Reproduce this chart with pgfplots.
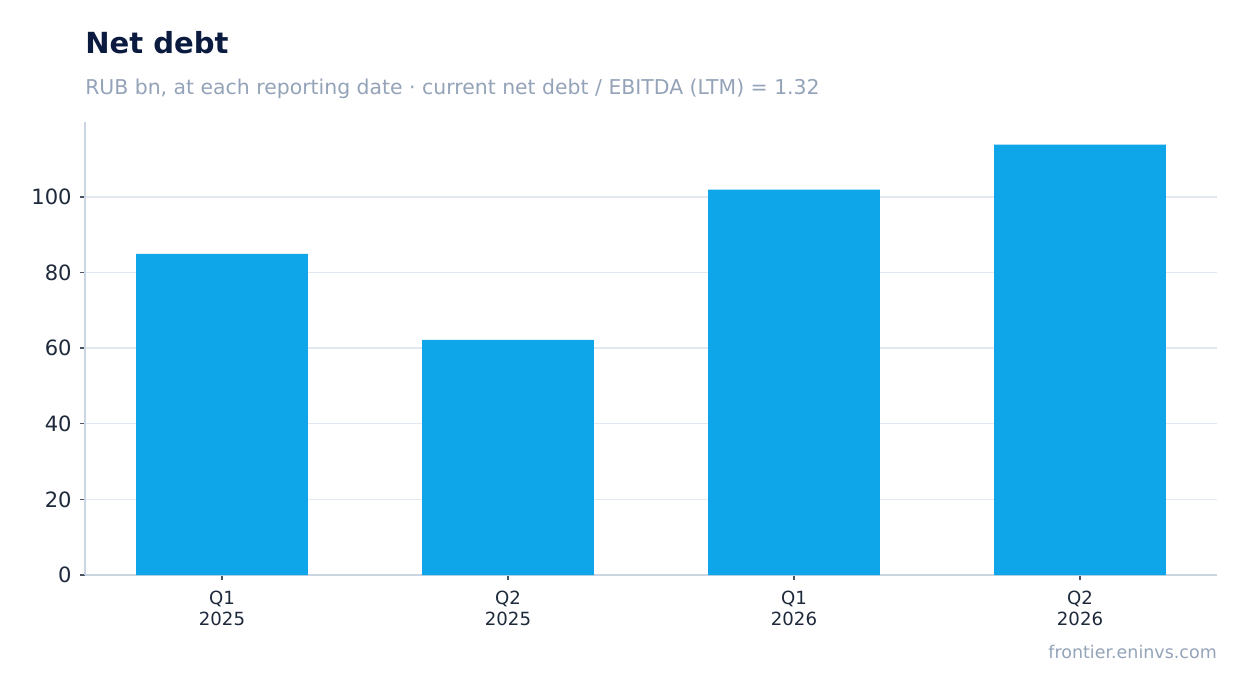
\documentclass[border=0pt]{standalone}
\usepackage{fontspec}
\setmainfont{DejaVu Sans}
\usepackage{pgfplots}
\pgfplotsset{compat=1.18}

\definecolor{barblue}{HTML}{0EA5E9}
\definecolor{titlenavy}{HTML}{0B1B3F}
\definecolor{subgray}{HTML}{94A3B8}
\definecolor{gridgray}{HTML}{E2E8F0}
\definecolor{axisgray}{HTML}{CBD5E1}
\definecolor{ticktext}{HTML}{1E293B}

\begin{document}
\begin{tikzpicture}[x=0.75pt,y=0.75pt]
  % page frame: 1247 x 693 px, axis lower-left at (85,575) px
  \path (-85,-118) rectangle (1162,575);

  \begin{axis}[
    at={(0,0)}, anchor=south west,
    scale only axis,
    width=849pt, height=339.75pt,
    xmin=-0.479, xmax=3.479,
    ymin=0, ymax=119.8,
    axis x line*=bottom, axis y line*=left,
    axis line style={axisgray, line width=1pt},
    ybar, bar width=0.6,
    bar shift=0pt,
    xtick={0,1,2,3},
    xticklabels={{Q1\\2025},{Q2\\2025},{Q1\\2026},{Q2\\2026}},
    xticklabel style={align=center, font=\fontsize{13.6}{16}\selectfont,
                      text=ticktext, yshift=-4.5pt},
    ytick={0,20,40,60,80,100},
    yticklabel style={font=\fontsize{15.8}{18}\selectfont, text=ticktext,
                      xshift=-2.5pt},
    /pgf/number format/assume math mode=true,
    tick style={draw=ticktext!80, line width=1pt},
    tick align=outside,
    major tick length=4pt,
    ymajorgrids,
    grid style={gridgray, line width=1pt},
    axis on top=false,
  ]
    \addplot[fill=barblue, draw=none] coordinates {
      (0,84.9) (1,62.2) (2,101.9) (3,113.8)
    };
  \end{axis}

  \node[anchor=base west, text=titlenavy, inner sep=0pt,
        font=\fontsize{21.8}{25}\selectfont\bfseries] at (0,521) {Net debt};
  \node[anchor=base west, text=subgray, inner sep=0pt,
        font=\fontsize{15.3}{18}\selectfont] at (0,480) {RUB bn, at each reporting date · current net debt / EBITDA (LTM) = 1.32};
  \node[anchor=base east, text=subgray, inner sep=0pt,
        font=\fontsize{13.1}{15}\selectfont] at (1132,-83) {frontier.eninvs.com};
\end{tikzpicture}
\end{document}
